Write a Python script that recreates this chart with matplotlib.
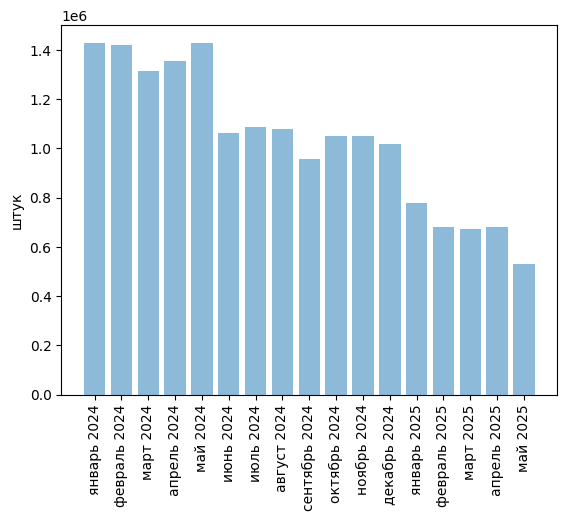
import matplotlib
matplotlib.use('Agg')
import matplotlib.pyplot as plt

# месяцы
months = ['январь 2024', 'февраль 2024', 'март 2024', 'апрель 2024', 'май 2024',
          'июнь 2024', 'июль 2024', 'август 2024', 'сентябрь 2024', 'октябрь 2024',
          'ноябрь 2024', 'декабрь 2024', 'январь 2025', 'февраль 2025', 'март 2025',
          'апрель 2025', 'май 2025']

# количество, штук
counts = [1430000, 1419000, 1316000, 1356000, 1427000,
          1062000, 1087000, 1079000, 956000, 1050000,
          1050000, 1018000, 777000, 683000, 671000,
          683000, 532000]

plt.figure(figsize=(6.4, 4.8), dpi=100)
plt.bar(months, counts, alpha=0.5)
plt.ylabel('штук')
plt.xticks(rotation=90)

plt.savefig('out.png', bbox_inches='tight')
